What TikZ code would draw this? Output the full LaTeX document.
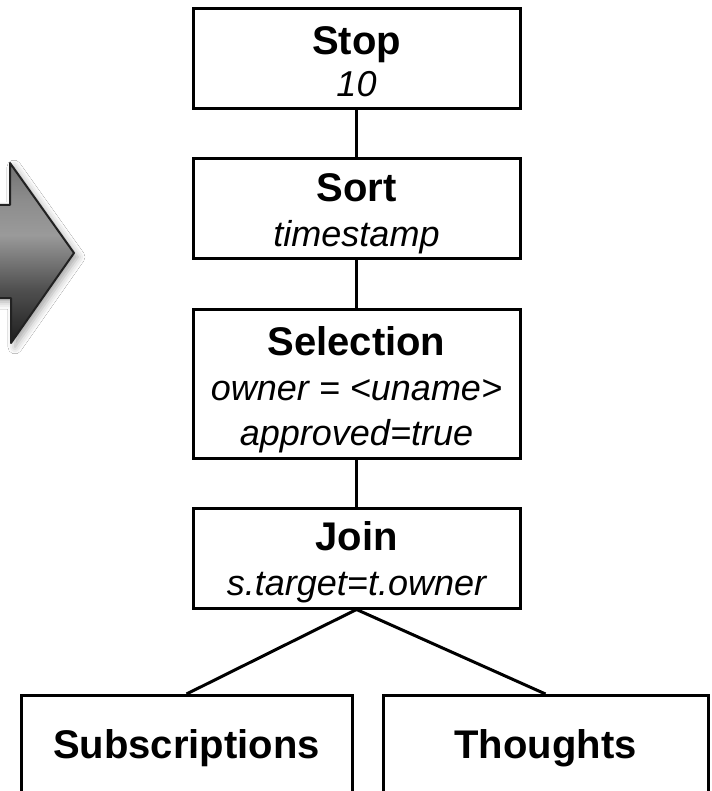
\documentclass[tikz,border=0pt]{standalone}
\usepackage{fontspec}
\setmainfont{Liberation Sans}
\usetikzlibrary{shadows.blur}

\definecolor{arrowA}{HTML}{1E1E1E}
\definecolor{arrowB}{HTML}{505050}
\definecolor{arrowC}{HTML}{9A9A9A}
\definecolor{arrowD}{HTML}{8C8C8C}
\definecolor{arrowE}{HTML}{707070}
\definecolor{arrowEdge}{HTML}{222222}

% grey bevel of the big arrow, dark at the bottom
\pgfdeclareverticalshading{arrowshade}{100bp}{%
  color(0bp)=(arrowA); color(25bp)=(arrowA); color(40bp)=(arrowB);
  color(55bp)=(arrowC); color(65bp)=(arrowD); color(75bp)=(arrowE);
  color(100bp)=(arrowE)}

\tikzset{
  opbox/.style={draw, line width=3pt, minimum width=327pt, inner sep=0pt},
  leafbox/.style={draw, line width=3pt, inner sep=0pt},
  optitle/.style={anchor=base, inner sep=0pt, font=\fontsize{40}{48}\selectfont\bfseries},
  oparg/.style={anchor=base, inner sep=0pt, font=\fontsize{36}{43}\selectfont\itshape},
  link/.style={line width=3pt}
}

\begin{document}
\begin{tikzpicture}[x=1pt, y=-1pt]
  \clip (0,0) rectangle (711,791);
  \fill[white] (0,0) rectangle (711,791);

  % big arrow pointing at the plan
  \path[shading=arrowshade, draw=arrowEdge, line width=2pt, line join=round,
        blur shadow={shadow xshift=4pt, shadow yshift=-4pt, shadow blur radius=7pt, shadow opacity=35}]
    (-10,205) -- (10,205) -- (10,163) -- (74,253) -- (11,343) -- (11,298) -- (-10,298) -- cycle;

  % operator boxes
  \node[opbox, minimum height=100pt] (stop) at (356.5,59) {};
  \node[opbox, minimum height=100pt] (sort) at (356.5,209) {};
  \node[opbox, minimum height=149pt] (sel)  at (356.5,383.5) {};
  \node[opbox, minimum height=100pt] (join) at (356.5,558) {};

  % base relations (they run off the bottom edge)
  \node[leafbox, minimum width=331pt, minimum height=150pt, anchor=north] (subs) at (186.5,694) {};
  \node[leafbox, minimum width=325pt, minimum height=150pt, anchor=north] (thou) at (545.5,694) {};

  % box texts
  \node[optitle] (stopT) at (356.5,55) {Stop};
  \node[oparg]   (stopA) at (356.5,97) {10};
  \node[optitle] (sortT) at (356.5,202) {Sort};
  \node[oparg]   (sortA) at (356.5,247) {timestamp};
  \node[optitle] (selT)  at (356.5,355) {Selection};
  \node[oparg]   (selA)  at (356.5,400) {owner = <uname>};
  \node[oparg]   (selB)  at (356.5,445) {approved=true};
  \node[optitle] (joinT) at (356.5,550) {Join};
  \node[oparg]   (joinA) at (356.5,595) {s.target=t.owner};
  \node[optitle] (subsT) at (186.5,758) {Subscriptions};
  \node[optitle] (thouT) at (545.5,758) {Thoughts};

  % tree edges
  \draw[link] (stop.south) -- (sort.north);
  \draw[link] (sort.south) -- (sel.north);
  \draw[link] (sel.south) -- (join.north);
  \draw[link] (join.south) -- (subs.north);
  \draw[link] (join.south) -- (thou.north);
\end{tikzpicture}
\end{document}
